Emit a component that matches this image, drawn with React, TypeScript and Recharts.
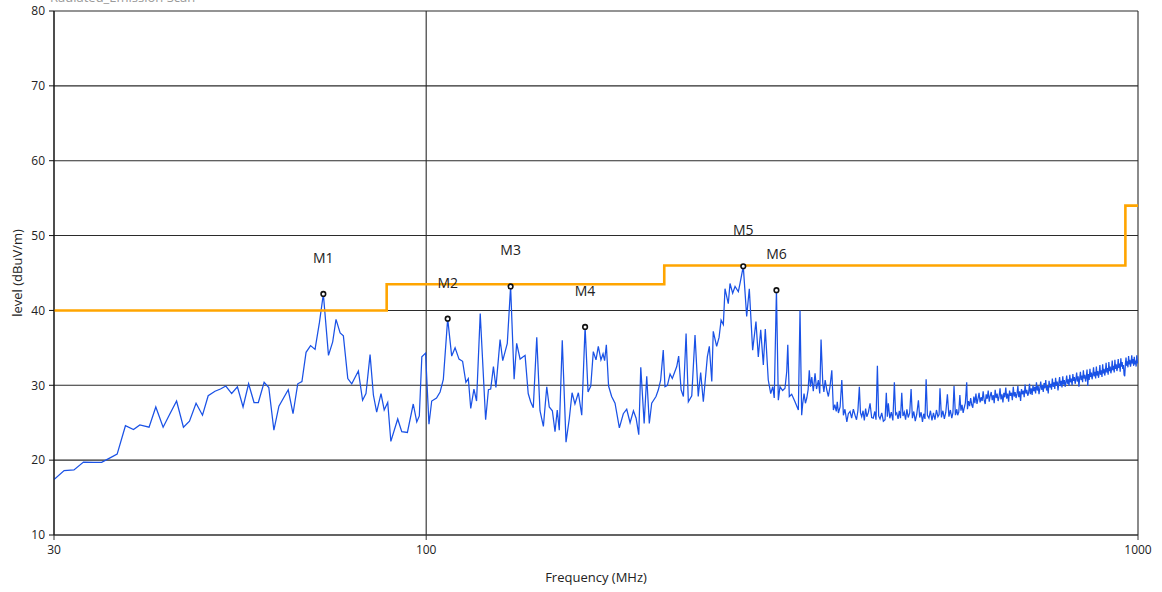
import React from 'react';
import { ComposedChart, Line, Scatter, XAxis, YAxis, CartesianGrid, Label } from 'recharts';

// Measured trace: [frequency MHz, level dBuV/m]
const trace: [number, number][] = [
  [30, 17.4], [31, 18.6], [32, 18.7], [33, 19.75], [34.1, 19.7], [35, 19.7], [35.8, 20.2], [36.8, 20.8],
  [37.8, 24.6], [38.8, 24.1], [39.6, 24.7], [40.8, 24.4], [41.7, 27.1], [42.7, 24.4], [43.6, 26.1], [44.6, 27.9],
  [45.6, 24.4], [46.5, 25.2], [47.5, 27.6], [48.5, 26.0], [49.4, 28.6], [50.5, 29.2], [51.4, 29.5], [52.3, 29.9],
  [53.3, 28.9], [54.3, 29.8], [55.3, 27.1], [56.3, 30.2], [57.3, 27.7], [58.1, 27.7], [59.2, 30.4], [60.1, 29.7],
  [61.1, 24.0], [62.1, 27.2], [64.0, 29.4], [65.0, 26.2], [66.0, 30.2], [66.9, 30.5], [67.8, 34.4], [68.8, 35.3],
  [69.8, 34.8], [70.8, 38.4], [71.7, 42.2], [72.9, 34.0], [73.9, 35.8], [74.7, 38.8], [75.7, 37.0], [76.5, 36.6],
  [77.6, 30.9], [78.6, 30.2], [80.3, 31.9], [81.4, 28.0], [82.3, 28.9], [83.4, 34.1], [84.3, 28.7], [85.2, 26.4],
  [86.4, 28.9], [87.3, 26.7], [88.3, 27.7], [89.2, 22.5], [91.2, 25.5], [92.4, 23.8], [94.1, 23.7], [95.9, 27.5],
  [97.0, 25.1], [97.8, 25.9], [98.6, 33.8], [99.8, 34.3], [100.9, 24.8], [101.8, 27.9], [103.4, 28.3], [104.6, 29.1],
  [105.7, 30.8], [107.2, 38.9], [108.6, 33.9], [109.8, 35.0], [111.2, 33.5], [112.5, 33.2], [113.7, 30.4], [114.6, 30.9],
  [115.5, 26.9], [116.7, 29.5], [117.7, 27.9], [119.1, 39.6], [121.2, 25.4], [122.3, 29.4], [123.2, 29.5], [124.3, 32.5],
  [125.3, 29.7], [127.0, 36.1], [128.1, 33.3], [130.0, 35.6], [131.4, 43.2], [132.9, 30.8], [134.0, 35.6], [135.5, 33.5],
  [137.7, 34.0], [139.1, 28.9], [140.2, 27.8], [141.4, 27.0], [143.0, 36.4], [144.5, 26.6], [146.1, 24.5], [147.7, 29.8],
  [148.9, 27.1], [150.4, 26.6], [151.7, 23.8], [152.8, 26.7], [153.8, 24.0], [155.3, 36.0], [157.2, 22.4], [158.9, 25.6],
  [160.3, 29.0], [161.8, 27.5], [163.6, 29.0], [165.4, 26.0], [167.2, 37.8], [168.8, 29.1], [170.3, 29.9], [171.7, 34.5],
  [173.2, 33.4], [174.5, 35.2], [176.0, 33.4], [177.2, 34.2], [178.1, 33.3], [179.1, 35.4], [180.4, 29.9], [182.2, 28.5],
  [184.2, 27.6], [186.8, 24.3], [189.2, 26.2], [191.3, 26.8], [193.4, 25.0], [195.5, 26.6], [197.2, 25.6], [198.9, 23.4],
  [200.2, 32.4], [202.4, 24.9], [204.1, 31.2], [205.8, 24.9], [207.4, 27.6], [210.3, 28.5], [211.9, 29.4], [213.5, 30.7],
  [215.3, 34.7], [216.5, 29.8], [218.2, 30.0], [220.1, 31.5], [221.7, 30.9], [224.9, 32.5], [226.3, 33.9], [228.1, 29.4],
  [229.8, 28.5], [231.8, 36.9], [233.5, 27.8], [236.1, 28.6], [238.6, 36.7], [241.1, 28.5], [243.0, 31.7], [245.1, 27.8],
  [248.3, 33.8], [249.9, 35.2], [251.9, 30.5], [253.1, 37.2], [255.9, 35.2], [257.9, 36.4], [259.6, 38.7], [261.5, 38.1],
  [262.9, 42.9], [265.7, 40.9], [267.2, 43.6], [269.5, 42.3], [271.6, 43.2], [274.5, 42.5], [276.0, 43.6], [278.9, 45.9],
  [282.0, 39.2], [284.4, 42.9], [287.5, 34.7], [290.6, 38.5], [292.8, 33.8], [295.1, 37.4], [297.6, 32.7], [299.5, 37.5],
  [302.4, 30.7], [304.8, 28.9], [306.8, 29.8], [308.3, 28.3], [310.5, 42.7], [312.4, 28.0], [314.1, 29.8], [316.8, 29.3],
  [319.2, 29.6], [321.0, 31.8], [322.1, 35.4], [323.7, 28.5], [326.2, 28.8], [329.7, 27.8], [333.3, 26.7], [335.1, 40.0],
  [336.9, 26.0], [338.0, 27.5], [339.5, 28.9], [341.0, 27.6], [342.5, 28.3], [344.0, 29.4], [345.3, 32.0], [346.6, 29.8],
  [348.1, 31.1], [349.8, 29.2], [351.8, 31.6], [353.5, 29.5], [355.6, 30.7], [357.2, 28.9], [358.7, 36.1], [360.7, 30.3],
  [362.0, 29.1], [363.5, 30.7], [365.4, 29.4], [367.3, 28.5], [369.2, 29.8], [371.4, 32.0], [373.3, 26.7], [375.0, 27.4],
  [376.8, 26.5], [378.0, 27.8], [379.4, 26.3], [381.5, 27.1], [383.6, 30.7], [385.6, 26.0], [387.5, 26.8], [389.9, 25.1],
  [391.8, 26.2], [394.0, 26.5], [396.0, 25.6], [398.2, 26.8], [400.4, 26.0], [402.3, 25.4], [404.1, 26.6], [406.0, 29.8],
  [407.5, 26.3], [409.1, 25.8], [410.9, 26.6], [412.6, 25.3], [414.3, 26.9], [415.9, 25.8], [418.1, 26.4], [420.3, 27.6],
  [422.5, 25.7], [424.7, 25.6], [426.8, 26.5], [428.5, 25.4], [430.4, 32.6], [432.2, 25.9], [434.1, 25.5], [436.5, 26.3],
  [438.8, 25.2], [441.2, 25.4], [443.0, 29.0], [444.5, 25.8], [445.9, 27.6], [448.0, 25.6], [450.2, 26.4], [452.5, 25.3],
  [454.7, 30.4], [456.5, 26.1], [458.2, 26.3], [460.2, 25.5], [462.0, 26.6], [463.8, 25.6], [465.7, 29.0], [467.5, 25.9],
  [469.5, 26.4], [471.5, 25.4], [473.5, 26.8], [475.5, 25.7], [477.8, 26.3], [480.0, 29.5], [482.0, 25.6], [484.2, 26.5],
  [486.5, 25.2], [488.8, 26.1], [491.5, 28.0], [493.5, 25.7], [495.8, 26.4], [498.0, 25.1], [500.0, 26.2], [502.0, 25.5],
  [503.9, 30.8], [506.0, 26.0], [508.5, 25.6], [511.0, 26.6], [513.5, 25.3], [516.0, 26.3], [518.5, 25.4], [521.0, 26.7],
  [523.5, 25.8], [525.5, 26.1], [527.0, 29.6], [529.5, 25.7], [532.0, 26.6], [534.5, 25.5], [537.0, 26.4], [539.8, 28.8],
  [542.5, 25.8], [545.0, 26.7], [547.5, 25.6], [549.5, 26.3], [551.5, 29.9], [554.0, 26.0], [556.5, 26.8], [558.0, 26.0],
  [560, 26.4], [562, 28.7], [564, 26.6], [566, 27.4], [568, 26.3], [570, 27.0], [572, 27.6], [574.6, 30.4],
  [576, 26.8], [578, 27.9], [580, 27.2], [582, 28.3], [584, 27.4], [586, 27.0], [588, 28.5], [590, 27.6],
  [592, 28.9], [594, 27.5], [596, 28.2], [598, 29.0], [600, 27.7], [602, 28.4], [604, 27.9], [606, 29.2],
  [608, 28.0], [610, 27.5], [612, 28.8], [614, 28.2], [616, 29.3], [618, 27.8], [620, 28.6], [622, 29.1],
  [624, 28.0], [626, 28.7], [628, 27.6], [630, 29.4], [632, 28.3], [634, 28.9], [636, 27.9], [638, 28.5],
  [640, 29.6], [642, 28.1], [644, 28.8], [646, 27.7], [648, 29.0], [650, 28.4], [652, 29.7], [654, 28.2],
  [656, 28.9], [658, 27.8], [660, 29.3], [662, 28.6], [664, 29.0], [666, 28.0], [668, 29.8], [670, 28.5],
  [672, 29.1], [674, 28.3], [676, 28.8], [678, 29.9], [680, 28.4], [682, 29.2], [684, 27.9], [686, 29.5],
  [688, 28.8], [690, 29.3], [692, 28.4], [694, 30.1], [696, 28.9], [698, 29.4], [700, 28.6], [702, 29.0],
  [704, 30.2], [706, 28.8], [708, 29.6], [710, 28.7], [712, 30.0], [714, 29.2], [716, 29.8], [718, 28.9],
  [720, 30.4], [722, 29.3], [724, 29.9], [726, 28.8], [728, 29.6], [730, 30.5], [732, 29.4], [734, 30.0],
  [736, 29.1], [738, 30.3], [740, 29.6], [742, 30.7], [744, 29.3], [746, 29.9], [748, 28.9], [750, 30.6],
  [752, 29.7], [754, 30.2], [756, 29.4], [758, 30.9], [760, 29.8], [762, 30.4], [764, 29.5], [766, 31.0],
  [768, 30.0], [770, 30.5], [772, 29.3], [774, 30.3], [776, 31.1], [778, 29.9], [780, 30.6], [782, 29.7],
  [784, 31.2], [786, 30.1], [788, 30.7], [790, 29.8], [792, 30.4], [794, 31.3], [796, 30.2], [798, 30.8],
  [800, 29.9], [802, 31.4], [804, 30.4], [806, 30.9], [808, 30.0], [810, 31.5], [812, 30.6], [814, 31.1],
  [816, 30.2], [818, 30.8], [820, 31.7], [822, 30.5], [824, 31.2], [826, 29.8], [828, 30.9], [830, 31.8],
  [832, 30.7], [834, 31.3], [836, 30.4], [838, 32.0], [840, 30.9], [842, 31.4], [844, 30.5], [846, 31.1],
  [848, 32.1], [850, 29.9], [852, 31.5], [854, 30.7], [856, 32.2], [858, 31.1], [860, 31.7], [862, 30.8],
  [864, 31.4], [866, 32.4], [868, 31.2], [870, 31.8], [872, 30.9], [874, 32.5], [876, 31.3], [878, 31.9],
  [880, 31.0], [882, 31.6], [884, 32.7], [886, 31.4], [888, 32.0], [890, 31.1], [892, 32.8], [894, 31.6],
  [896, 32.2], [898, 31.3], [900, 31.9], [902, 33.0], [904, 31.7], [906, 32.3], [908, 31.4], [910, 33.1],
  [912, 31.9], [914, 32.5], [916, 31.6], [918, 32.1], [920, 33.3], [922, 32.0], [924, 32.6], [926, 31.7],
  [928, 33.4], [930, 32.2], [932, 32.8], [934, 31.9], [936, 32.4], [938, 33.5], [940, 32.3], [942, 32.9],
  [944, 31.8], [946, 33.6], [948, 32.5], [950, 33.1], [952, 32.2], [954, 32.7], [956, 31.4], [958, 31.2],
  [960, 32.8], [962, 33.7], [964, 32.6], [966, 33.2], [968, 32.4], [970, 33.9], [972, 32.8], [974, 33.4],
  [976, 32.5], [978, 33.0], [980, 34.0], [982, 32.9], [984, 33.5], [986, 32.6], [988, 33.8], [990, 32.8],
  [992, 33.3], [994, 32.5], [996, 34.0], [998, 33.1], [1000, 32.9],
];

const limitFreq = [30, 88, 216, 960, 1000];
const limitLevel = [40, 43.5, 46, 54, 54];

const markerNames = ['M1', 'M2', 'M3', 'M4', 'M5', 'M6'];
const markerFreq = [71.7, 107.2, 131.4, 167.2, 278.9, 310.5];
const markerLevel = [42.2, 38.9, 43.2, 37.8, 45.9, 42.7];

const xTicks = [30, 100, 1000];
const yTicks = [10, 20, 30, 40, 50, 60, 70, 80];

const traceData = trace.map(([f, level]) => ({ f, level }));
const limitData = limitFreq.map((f, i) => ({ f, level: limitLevel[i] }));
const markerData = markerNames.map((name, i) => ({ name, f: markerFreq[i], level: markerLevel[i] }));

const FONT = '"Open Sans", "DejaVu Sans", sans-serif';

const MarkerShape = (props: any) => {
  const { cx, cy, payload } = props;
  if (cx == null || cy == null) return null;
  return (
    <g>
      <circle cx={cx} cy={cy} r={2.3} fill="#ffffff" stroke="#111111" strokeWidth={1.6} />
      <text x={cx} y={cy - 31} textAnchor="middle" fontSize={14} fontFamily={FONT} fill="#222222">
        {payload.name}
      </text>
    </g>
  );
};

export default function App() {
  return (
    <div style={{ position: 'absolute', left: 0, top: 0, width: 1162, height: 592, background: '#ffffff' }}>
      <ComposedChart
        width={1162}
        height={592}
        margin={{ top: 11, right: 24, left: 0, bottom: 7 }}
      >
        <text x={50} y={2} fontSize={13} fontFamily={FONT} fill="#9a9a9a">Radiated_Emission Scan</text>
        <CartesianGrid stroke="#2b2b2b" strokeWidth={1.1} horizontalValues={yTicks} verticalValues={xTicks} />
        <XAxis
          dataKey="f"
          type="number"
          scale="log"
          domain={[30, 1000]}
          ticks={xTicks}
          allowDataOverflow
          height={50}
          tickSize={5}
          tickMargin={5}
          stroke="#333333"
          tick={{ fill: '#222222', fontSize: 12, fontFamily: FONT }}
        >
          <Label value="Frequency (MHz)" position="insideBottom" offset={3} style={{ fill: '#222222', fontSize: 13, fontFamily: FONT }} />
        </XAxis>
        <YAxis
          type="number"
          domain={[10, 80]}
          ticks={yTicks}
          allowDataOverflow
          width={54}
          tickSize={5}
          tickMargin={4}
          stroke="#111111"
          tick={{ fill: '#222222', fontSize: 12, fontFamily: FONT }}
        >
          <Label value="level (dBuV/m)" angle={-90} position="insideLeft" offset={17} style={{ textAnchor: 'middle', fill: '#222222', fontSize: 13, fontFamily: FONT }} />
        </YAxis>
        <Line
          data={traceData}
          dataKey="level"
          type="linear"
          stroke="#1a52e6"
          strokeWidth={1.25}
          dot={false}
          isAnimationActive={false}
        />
        <Line
          data={limitData}
          dataKey="level"
          type="stepAfter"
          stroke="#ffa500"
          strokeWidth={2.6}
          dot={false}
          isAnimationActive={false}
        />
        <Scatter data={markerData} dataKey="level" shape={MarkerShape} isAnimationActive={false} />
      </ComposedChart>
    </div>
  );
}
